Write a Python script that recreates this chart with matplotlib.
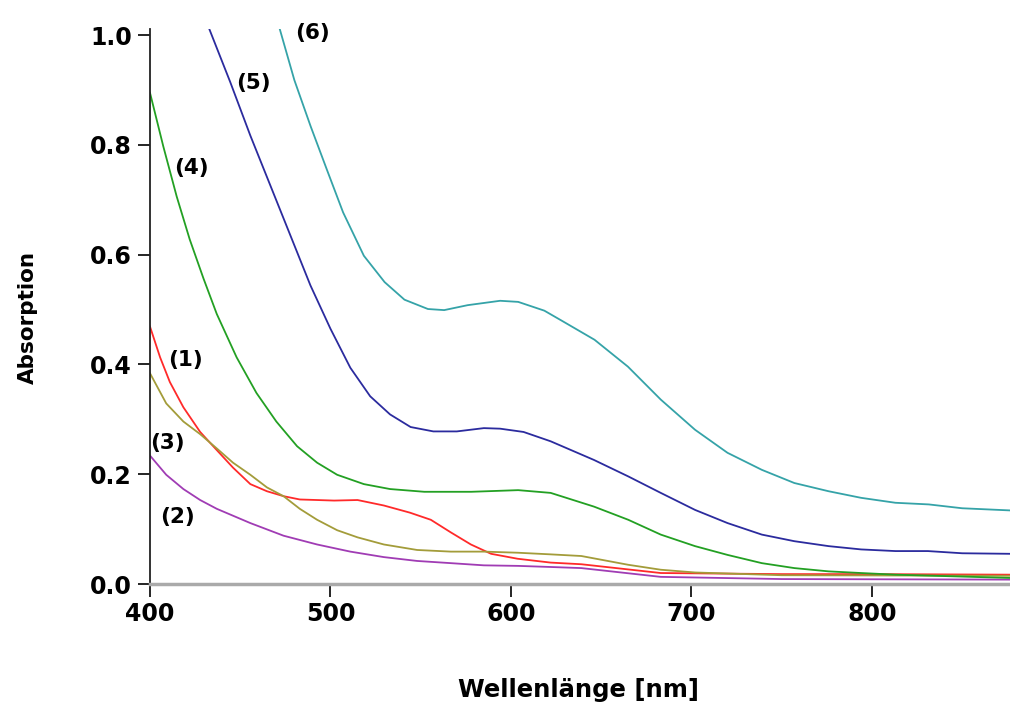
import matplotlib

matplotlib.use("Agg")
import matplotlib.pyplot as plt

plt.rcParams["font.family"] = ["DejaVu Sans"]
plt.rcParams["font.weight"] = "bold"

# absorption spectra (nm, absorbance)
wl_1 = [400, 405.6, 411, 418.5, 427.8, 437, 446, 455.6, 464.8, 474, 483, 502, 515, 529.6, 544,
        555.6, 566.7, 577.8, 589, 603.7, 622, 639, 683, 750, 800, 877]
abs_1 = [0.469, 0.413, 0.368, 0.322, 0.277, 0.244, 0.212, 0.182, 0.169, 0.160, 0.154, 0.152, 0.153,
         0.143, 0.130, 0.117, 0.094, 0.072, 0.055, 0.046, 0.039, 0.036, 0.020, 0.018, 0.018, 0.017]

wl_2 = [400, 409, 418.5, 427.8, 437, 455.6, 474, 492.6, 511, 529.6, 548, 566.7, 585, 604, 622, 639,
        683, 750, 877]
abs_2 = [0.234, 0.199, 0.173, 0.153, 0.137, 0.111, 0.088, 0.072, 0.059, 0.049, 0.042, 0.038, 0.034,
         0.033, 0.031, 0.029, 0.013, 0.009, 0.008]

wl_3 = [400, 409, 418.5, 427.8, 437, 446, 455.6, 464.8, 474, 483, 492.6, 503.7, 515, 529.6, 548,
        566.7, 585, 603.7, 622, 639, 665, 683, 702, 750, 877]
abs_3 = [0.384, 0.329, 0.296, 0.273, 0.247, 0.221, 0.199, 0.176, 0.160, 0.137, 0.117, 0.098, 0.085,
         0.072, 0.062, 0.059, 0.059, 0.057, 0.054, 0.051, 0.035, 0.026, 0.021, 0.016, 0.015]

wl_4 = [400, 407.4, 414.8, 422, 429.6, 437, 448, 459, 470, 481.5, 492.6, 503.7, 518.5, 533, 552,
        578, 604, 622, 646, 665, 683, 702, 720, 739, 757, 776, 794, 813, 877]
abs_4 = [0.895, 0.797, 0.706, 0.628, 0.557, 0.492, 0.413, 0.348, 0.296, 0.251, 0.221, 0.199, 0.182,
         0.173, 0.168, 0.168, 0.171, 0.166, 0.141, 0.117, 0.090, 0.069, 0.053, 0.038, 0.029, 0.023,
         0.020, 0.017, 0.011]

wl_5 = [433, 444.4, 455.6, 466.7, 477.8, 488.9, 500, 511, 522, 533, 544.4, 557, 570, 585, 594, 607,
        622, 646, 665, 683, 702, 720, 739, 757, 776, 794, 813, 831, 850, 877]
abs_5 = [1.01, 0.915, 0.817, 0.726, 0.635, 0.544, 0.465, 0.394, 0.342, 0.309, 0.286, 0.278, 0.278,
         0.284, 0.283, 0.277, 0.260, 0.226, 0.196, 0.166, 0.135, 0.111, 0.090, 0.078, 0.069, 0.063,
         0.060, 0.060, 0.056, 0.055]

wl_6 = [472, 480, 489, 498, 507, 518.5, 530, 541, 554, 563, 576, 594, 604, 618.5, 628, 646.3, 664.8,
        683, 702, 720, 739, 757, 776, 794, 813, 831.5, 850, 877]
abs_6 = [1.01, 0.918, 0.834, 0.755, 0.677, 0.598, 0.55, 0.518, 0.501, 0.499, 0.508, 0.516, 0.514,
         0.498, 0.480, 0.445, 0.396, 0.336, 0.281, 0.239, 0.208, 0.184, 0.169, 0.157, 0.148, 0.145,
         0.138, 0.134]

SERIES = [
    (wl_1, abs_1, "#ff2a2a"),
    (wl_2, abs_2, "#a03cb4"),
    (wl_3, abs_3, "#a39c3a"),
    (wl_4, abs_4, "#23a023"),
    (wl_5, abs_5, "#2b2b9e"),
    (wl_6, abs_6, "#35a3a8"),
]

# curve labels (text, wavelength, absorbance)
LABELS = [("(1)", 419.5, 0.408), ("(2)", 415, 0.122), ("(3)", 409.5, 0.257),
          ("(4)", 423, 0.758), ("(5)", 457.5, 0.913), ("(6)", 490, 1.003)]

X_TICKS = [400, 500, 600, 700, 800]
Y_TICKS = [0.0, 0.2, 0.4, 0.6, 0.8, 1.0]

fig = plt.figure(figsize=(10.10, 7.06), dpi=100)
ax = fig.add_axes([0.1485, 0.1728, 0.8515, 0.786])

for wl, ab, color in SERIES:
    ax.plot(wl, ab, color=color, linewidth=1.3)

for text, x, y in LABELS:
    ax.text(x, y, text, fontsize=15.5, fontweight="bold", ha="center", va="center", clip_on=False)

ax.set_xlim(400, 876.5)
ax.set_ylim(0, 1.011)
ax.set_xticks(X_TICKS)
ax.set_yticks(Y_TICKS)
ax.set_yticklabels([f"{v:.1f}" for v in Y_TICKS])
ax.tick_params(direction="out", length=9, width=1.2, labelsize=17, pad=4)
for lab in ax.get_xticklabels() + ax.get_yticklabels():
    lab.set_fontweight("bold")

ax.spines[["top", "right"]].set_visible(False)
ax.spines["left"].set_color("#222222")
ax.spines["left"].set_linewidth(1.3)
ax.spines["bottom"].set_color("#aaaaaa")
ax.spines["bottom"].set_linewidth(2.5)

# axis titles placed in figure pixels, as in the reference
fig.text(578 / 1010, 1 - 690 / 706, "Wellenlänge [nm]", fontsize=17.5, fontweight="bold",
         ha="center", va="center")
fig.text(28 / 1010, 1 - 317 / 706, "Absorption", fontsize=15.5, fontweight="bold",
         ha="center", va="center", rotation=90)

fig.savefig("out.png", dpi=100)
